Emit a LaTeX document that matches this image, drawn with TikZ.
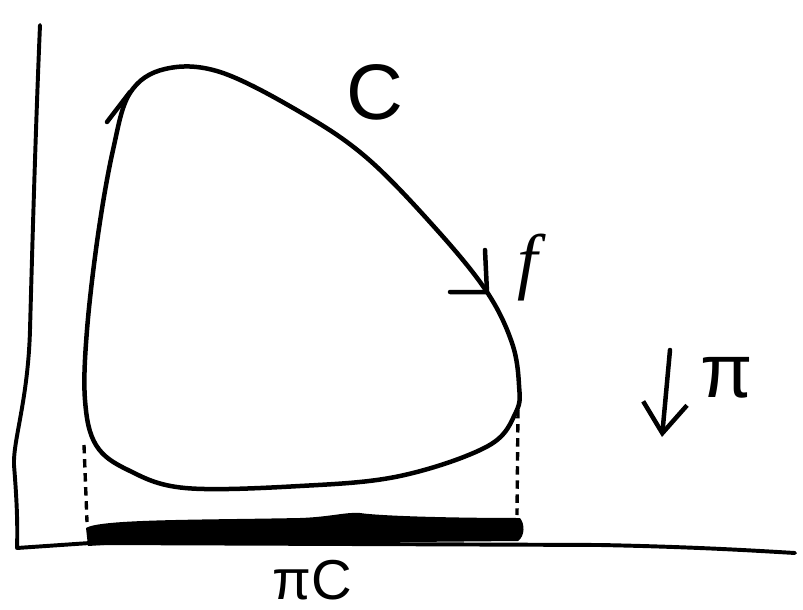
\documentclass[tikz,border=0pt]{standalone}
\usepackage{fontspec}
\setmainfont{Liberation Sans}
\newfontfamily\serf{Liberation Serif}
\usetikzlibrary{arrows.meta}
\begin{document}
\begin{tikzpicture}[x=0.025cm,y=-0.025cm,
  ink/.style={line width=3.2pt,line cap=round,line join=round},
  axisline/.style={line width=2.8pt,line cap=round,line join=round},
  guide/.style={line width=2.4pt,dash pattern=on 6pt off 4pt},
  lbl/.style={inner sep=0pt}]
\useasboundingbox (0,0) rectangle (803,610);
% axes
\draw[axisline] (40,25) .. controls (36,120) and (33,220) .. (30,330)
  .. controls (28,400) and (13,440) .. (14,465)
  .. controls (16,490) and (18,520) .. (17,548)
  -- (90,543) -- (600,545) .. controls (700,547) and (760,551) .. (795,553);
% closed curve C
\draw[ink] plot[smooth cycle,tension=0.6] coordinates {
  (130,93) (165,69) (220,72) (300,112) (367,158) (437,230) (487,292)
  (512,343) (519,385) (516,412) (488,446) (400,476) (300,486) (185,488)
  (128,470) (96,445) (85,400) (87,330) (98,235) (113,150)};
% arrowheads on C
\coordinate (a1) at (130,92);
\coordinate (a1b) at (107,122);
\draw[ink] (a1b) -- (a1);
\coordinate (a2) at (487,292);
\draw[ink] (450,292) -- (a2) -- (485,250);
% dashed guides
\coordinate (l1) at (84,445); \coordinate (l2) at (87,522);
\coordinate (r1) at (518,410); \coordinate (r2) at (517,515);
\draw[guide] (l1) -- (l2);
\draw[guide] (r1) -- (r2);
% projection bar
\fill[black] (86,528) .. controls (100,519) and (200,520) .. (300,518)
  .. controls (330,517) and (345,512) .. (360,513)
  .. controls (380,516) and (450,518) .. (520,518)
  .. controls (525,524) and (525,536) .. (518,541)
  -- (300,543) -- (120,544) -- (88,546) -- cycle;
% labels
\node[lbl] (C) at (375,92) {\fontsize{56}{56}\selectfont C};
\node[lbl] (f) at (528,268) {\fontsize{52}{52}\selectfont\serf\itshape f};
\node[lbl] (piC) at (312,580) {\fontsize{40}{40}\selectfont πC};
% pi arrow
\coordinate (p1) at (670,350);
\coordinate (p2) at (662,437);
\draw[ink,-{Straight Barb[length=0.75cm,width=1.1cm,line width=3.2pt]}] (p1) -- (p2);
\node[lbl] (pi) at (727,378) {\fontsize{54}{54}\selectfont π};
\end{tikzpicture}
\end{document}
